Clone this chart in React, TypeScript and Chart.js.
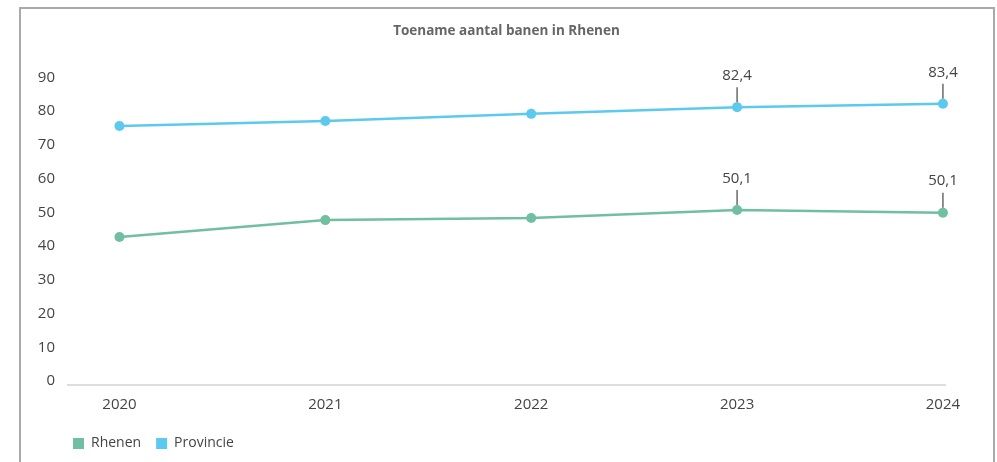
import React, { useEffect, useRef } from 'react';
import { Chart, registerables } from 'chart.js';

Chart.register(...registerables);

const chartTitle = 'Toename aantal banen in Rhenen';
const years = [2020, 2021, 2022, 2023, 2024];
const seriesNames = ['Rhenen', 'Provincie'];
const rhenenValues = [43.9, 48.9, 49.5, 51.9, 51.1];
const provincieValues = [76.8, 78.3, 80.4, 82.4, 83.4];
const rhenenCallouts: (number | null)[] = [null, null, null, 50.1, 50.1];
const provincieCallouts: (number | null)[] = [null, null, null, 82.4, 83.4];
const yTicks = [0, 10, 20, 30, 40, 50, 60, 70, 80, 90];

const seriesColors = ['#70bfa0', '#5cc9ee'];
const calloutSets = [rhenenCallouts, provincieCallouts];
const FONT = '"Open Sans", sans-serif';
const TEXT = '#444';

const calloutPlugin = {
  id: 'callouts',
  afterDatasetsDraw(chart: any) {
    const ctx = chart.ctx as CanvasRenderingContext2D;
    chart.data.datasets.forEach((_ds: any, di: number) => {
      const labels = calloutSets[di];
      const meta = chart.getDatasetMeta(di);
      meta.data.forEach((pt: any, i: number) => {
        const v = labels[i];
        if (v == null) return;
        const { x, y } = pt;
        ctx.save();
        ctx.strokeStyle = TEXT;
        ctx.lineWidth = 1.2;
        ctx.beginPath();
        ctx.moveTo(x, y - 20);
        ctx.lineTo(x, y - 5);
        ctx.stroke();
        ctx.fillStyle = TEXT;
        ctx.font = `15px ${FONT}`;
        ctx.textAlign = 'center';
        ctx.textBaseline = 'middle';
        ctx.fillText(v.toFixed(1).replace('.', ','), x, y - 31.5);
        ctx.restore();
      });
    });
  },
};

// nudge the legend so it starts slightly left of the plot area, as in the reference
const legendShiftPlugin = {
  id: 'legendShift',
  afterLayout(chart: any) {
    if (chart.legend) {
      chart.legend.left -= 10;
      chart.legend.right -= 10;
    }
  },
};

export default function App() {
  const canvasRef = useRef<HTMLCanvasElement | null>(null);

  useEffect(() => {
    if (!canvasRef.current) return;
    const valueSets = [rhenenValues, provincieValues];
    const chart = new Chart(canvasRef.current, {
      type: 'line',
      data: {
        datasets: seriesNames.map((name, si) => ({
          label: name,
          data: years.map((x, i) => ({ x, y: valueSets[si][i] })),
          borderColor: seriesColors[si],
          backgroundColor: seriesColors[si],
          borderWidth: 2.5,
          pointRadius: 5,
          pointHoverRadius: 5,
          pointBorderWidth: 0,
          tension: 0,
          clip: false as any,
        })),
      },
      options: {
        animation: false,
        responsive: true,
        maintainAspectRatio: false,
        events: [],
        layout: { padding: { left: 38, right: 52, top: 0, bottom: 1.5 } },
        plugins: {
          title: {
            display: true,
            text: chartTitle,
            fullSize: false,
            color: '#666',
            font: { family: FONT, size: 13.5, weight: 'bold' },
            padding: { top: 23, bottom: 42.3 },
          },
          legend: {
            position: 'bottom',
            align: 'start',
            fullSize: false,
            labels: {
              boxWidth: 11,
              boxHeight: 11,
              padding: 15,
              color: TEXT,
              font: { family: FONT, size: 14 },
              generateLabels: (c: any) =>
                (Chart.defaults.plugins.legend.labels as any)
                  .generateLabels(c)
                  .map((l: any) => ({ ...l, lineWidth: 0 })),
            },
          },
          tooltip: { enabled: false },
        },
        scales: {
          x: {
            type: 'linear',
            min: 2019.75,
            max: 2024.01,
            grid: { display: false, drawTicks: false },
            border: { display: true, color: '#dddddd', width: 2 },
            ticks: {
              padding: 11,
              color: TEXT,
              font: { family: FONT, size: 15 },
              autoSkip: false,
              maxRotation: 0,
              callback: (v: any) => String(v),
            },
            afterBuildTicks: (s: any) => {
              s.ticks = years.map((v) => ({ value: v }));
            },
            afterFit: (s: any) => {
              s.height = 36.5;
            },
          },
          y: {
            min: 0,
            max: 90,
            grid: { display: false, drawTicks: false },
            border: { display: false },
            ticks: {
              padding: 13,
              labelOffset: -4,
              color: TEXT,
              font: { family: FONT, size: 15 },
            },
            afterBuildTicks: (s: any) => {
              s.ticks = yTicks.map((v) => ({ value: v }));
            },
            afterFit: (s: any) => {
              s.width = 30;
            },
          },
        },
      } as any,
      plugins: [calloutPlugin, legendShiftPlugin],
    });
    return () => chart.destroy();
  }, []);

  return (
    <div style={{ position: 'fixed', left: 0, top: 0, width: 997, height: 462, overflow: 'hidden', background: '#fff' }}>
      <div
        style={{
          position: 'absolute',
          left: 19,
          top: 7,
          width: 976,
          height: 470,
          boxSizing: 'border-box',
          borderLeft: '2px solid #aaa',
          borderTop: '2px solid #aaa',
          borderRight: '2px solid #aaa',
        }}
      />
      <div style={{ position: 'absolute', left: 0, top: 0, width: 997, height: 462 }}>
        <canvas ref={canvasRef} />
      </div>
    </div>
  );
}
